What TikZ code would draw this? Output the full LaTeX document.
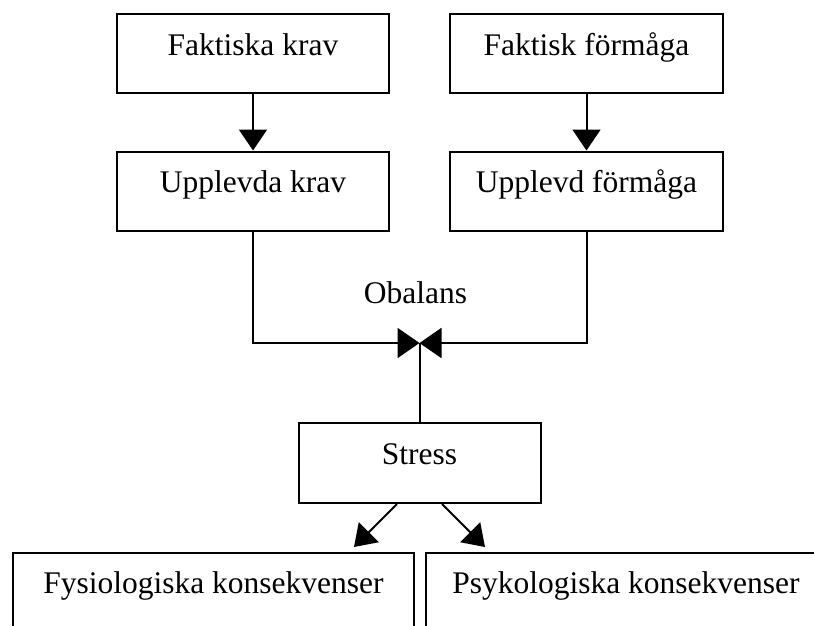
\documentclass[tikz,border=0pt]{standalone}
\usepackage{fontspec}
\setmainfont{Liberation Serif}
\usetikzlibrary{arrows.meta}
\begin{document}
\begin{tikzpicture}[x=1pt,y=-1pt,
  txt/.style={font=\fontsize{31.5}{38}\selectfont},
  box/.style={draw, line width=2pt, inner sep=0pt, text height=41pt, text depth=38pt, txt},
  conn/.style={line width=2pt},
  arr/.style={conn, -{Triangle[width=28pt,length=21pt]}},
  harr/.style={conn, -{Triangle[width=30pt,length=22pt]}},
]
\useasboundingbox (0,0) rectangle (814,625);
\clip (0,0) rectangle (814,625);
\node[box, minimum width=272pt] (fk) at (253,53.5) {Faktiska krav};
\node[box, minimum width=273pt] (ff) at (586.5,53.5) {Faktisk förmåga};
\node[box, minimum width=272pt] (uk) at (253,191) {Upplevda krav};
\node[box, minimum width=273pt] (uf) at (586.5,191) {Upplevd förmåga};
\node[txt, anchor=base] (ob) at (415.5,303) {Obalans};
\node[box, minimum width=242pt, text depth=39pt] (st) at (419.5,463) {Stress};
\node[box, minimum width=401pt, text height=40pt, text depth=80pt] (fy) at (213.5,613) {Fysiologiska konsekvenser};
\node[box, minimum width=400pt, text height=40pt, text depth=80pt] (ps) at (626,613) {Psykologiska konsekvenser};
\coordinate (j) at (419.5,343);
\coordinate (t1) at (354,547);
\coordinate (t2) at (485,547);
\draw[arr] (fk.south) -- (uk.north);
\draw[arr] (ff.south) -- (uf.north);
\draw[harr] (uk.south) |- (j);
\draw[harr] (uf.south) |- (j);
\draw[conn] (st.north) -- (j);
\draw[arr] ([xshift=-22.5pt]st.south) -- (t1);
\draw[arr] ([xshift=22.5pt]st.south) -- (t2);
\end{tikzpicture}
\end{document}
